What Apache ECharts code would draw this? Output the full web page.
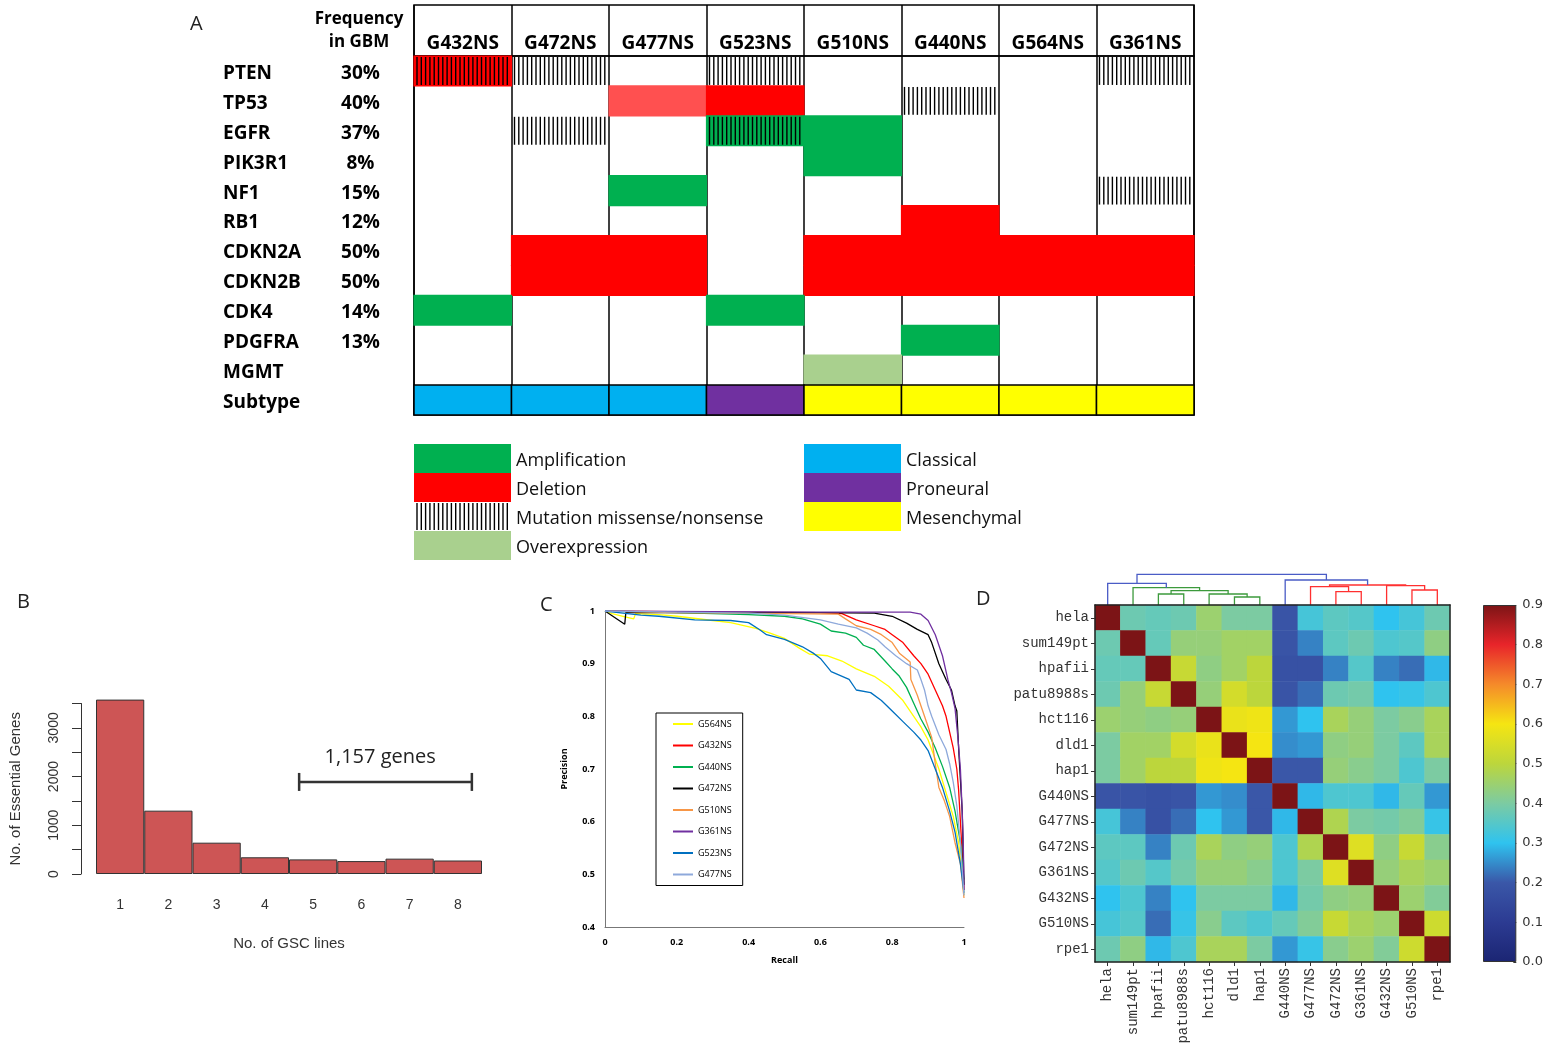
<!DOCTYPE html>
<html>
<head>
<meta charset="utf-8">
<script src="https://cdn.jsdelivr.net/npm/echarts@6/dist/echarts.min.js"></script>
<style>
  html, body { margin: 0; padding: 0; background: #fff; }
  #main { width: 1546px; height: 1049px; }
</style>
</head>
<body>
<div id="main"></div>
<script>
// ---------- panel A data ----------
var cellLines = ['G432NS', 'G472NS', 'G477NS', 'G523NS', 'G510NS', 'G440NS', 'G564NS', 'G361NS'];
var genes = ['PTEN', 'TP53', 'EGFR', 'PIK3R1', 'NF1', 'RB1', 'CDKN2A', 'CDKN2B', 'CDK4', 'PDGFRA', 'MGMT', 'Subtype'];
var freqs = ['30%', '40%', '37%', '8%', '15%', '12%', '50%', '50%', '14%', '13%', '', ''];
// [column, row, alteration]
var alterations = [
  [0, 0, 'del'], [0, 0, 'mut'], [1, 0, 'mut'], [3, 0, 'mut'], [7, 0, 'mut'],
  [2, 1, 'delLight'], [3, 1, 'del'], [5, 1, 'mut'],
  [1, 2, 'mut'], [3, 2, 'amp'], [3, 2, 'mut'], [4, 2, 'amp'],
  [4, 3, 'amp'],
  [2, 4, 'amp'], [7, 4, 'mut'],
  [5, 5, 'del'],
  [1, 6, 'del'], [2, 6, 'del'], [4, 6, 'del'], [5, 6, 'del'], [6, 6, 'del'], [7, 6, 'del'],
  [1, 7, 'del'], [2, 7, 'del'], [4, 7, 'del'], [5, 7, 'del'], [6, 7, 'del'], [7, 7, 'del'],
  [0, 8, 'amp'], [3, 8, 'amp'],
  [5, 9, 'amp'],
  [4, 10, 'over']
];
var subtypes = ['classical', 'classical', 'classical', 'proneural', 'mesenchymal', 'mesenchymal', 'mesenchymal', 'mesenchymal'];
var legendAlt = [['Amplification', 'amp'], ['Deletion', 'del'], ['Mutation missense/nonsense', 'mut'], ['Overexpression', 'over']];
var legendSub = [['Classical', 'classical'], ['Proneural', 'proneural'], ['Mesenchymal', 'mesenchymal']];

// ---------- panel B data ----------
var gscLines = ['1', '2', '3', '4', '5', '6', '7', '8'];
var essentialGenes = [3580, 1300, 643, 343, 300, 265, 315, 277];
var bracketX = [4.71, 8.29];
var bracketY = 1890;

// ---------- panel C data ----------
var prNames = ['G564NS', 'G432NS', 'G440NS', 'G472NS', 'G510NS', 'G361NS', 'G523NS', 'G477NS'];
var prG564 = [[0,1],[0.02,0.995],[0.05,0.99],[0.08,0.985],[0.085,0.995],[0.15,0.993],[0.2,0.99],[0.3,0.982],[0.35,0.978],[0.42,0.967],[0.46,0.958],[0.5,0.948],[0.54,0.93],[0.57,0.918],[0.62,0.915],[0.66,0.905],[0.7,0.89],[0.75,0.876],[0.79,0.857],[0.83,0.83],[0.86,0.8],[0.88,0.78],[0.9,0.755],[0.93,0.7],[0.95,0.655],[0.97,0.61],[0.985,0.56],[0.995,0.5],[1,0.46]];
var prG432 = [[0,1],[0.3,0.998],[0.6,0.997],[0.66,0.995],[0.7,0.983],[0.75,0.972],[0.78,0.965],[0.8,0.955],[0.83,0.94],[0.86,0.915],[0.88,0.9],[0.9,0.88],[0.92,0.85],[0.94,0.82],[0.95,0.8],[0.96,0.77],[0.97,0.74],[0.98,0.7],[0.985,0.66],[0.99,0.6],[0.995,0.54],[1,0.47]];
var prG440 = [[0,1],[0.2,0.997],[0.4,0.993],[0.5,0.99],[0.55,0.985],[0.6,0.975],[0.63,0.962],[0.67,0.958],[0.7,0.95],[0.72,0.935],[0.75,0.927],[0.78,0.905],[0.8,0.89],[0.82,0.876],[0.84,0.855],[0.86,0.825],[0.88,0.795],[0.9,0.77],[0.92,0.74],[0.94,0.705],[0.96,0.665],[0.975,0.62],[0.99,0.56],[1,0.49]];
var prG472 = [[0,1],[0.055,0.975],[0.058,0.997],[0.3,0.997],[0.6,0.997],[0.75,0.996],[0.8,0.99],[0.84,0.977],[0.87,0.965],[0.9,0.955],[0.91,0.94],[0.93,0.9],[0.95,0.87],[0.965,0.85],[0.975,0.82],[0.98,0.81],[0.985,0.74],[0.99,0.68],[0.995,0.62],[1,0.48]];
var prG510 = [[0,1],[0.2,0.997],[0.5,0.995],[0.65,0.994],[0.67,0.985],[0.7,0.972],[0.74,0.965],[0.77,0.955],[0.8,0.94],[0.82,0.92],[0.85,0.903],[0.852,0.87],[0.87,0.84],[0.89,0.8],[0.91,0.76],[0.92,0.71],[0.93,0.665],[0.945,0.64],[0.96,0.61],[0.975,0.56],[0.99,0.52],[1,0.455]];
var prG361 = [[0,1],[0.3,0.999],[0.6,0.998],[0.85,0.998],[0.88,0.994],[0.9,0.982],[0.92,0.955],[0.94,0.915],[0.955,0.87],[0.965,0.845],[0.975,0.815],[0.983,0.76],[0.99,0.7],[0.995,0.62],[0.998,0.56],[1,0.47]];
var prG523 = [[0,1],[0.05,0.996],[0.1,0.992],[0.15,0.99],[0.25,0.983],[0.35,0.982],[0.4,0.978],[0.43,0.965],[0.45,0.955],[0.5,0.946],[0.55,0.932],[0.58,0.92],[0.6,0.91],[0.63,0.885],[0.68,0.87],[0.7,0.85],[0.74,0.845],[0.77,0.83],[0.8,0.81],[0.83,0.79],[0.86,0.77],[0.88,0.755],[0.9,0.735],[0.92,0.7],[0.94,0.665],[0.96,0.62],[0.975,0.58],[0.99,0.52],[1,0.465]];
var prG477 = [[0,1],[0.2,0.998],[0.4,0.996],[0.5,0.992],[0.6,0.983],[0.65,0.975],[0.7,0.968],[0.73,0.958],[0.76,0.945],[0.78,0.932],[0.81,0.915],[0.84,0.9],[0.87,0.888],[0.88,0.87],[0.89,0.85],[0.9,0.82],[0.91,0.8],[0.93,0.765],[0.95,0.737],[0.96,0.71],[0.97,0.675],[0.98,0.63],[0.99,0.56],[1,0.46]];
var prCurves = [prG564, prG432, prG440, prG472, prG510, prG361, prG523, prG477];

// ---------- panel D data ----------
var samples = ['hela', 'sum149pt', 'hpafii', 'patu8988s', 'hct116', 'dld1', 'hap1', 'G440NS', 'G477NS', 'G472NS', 'G361NS', 'G432NS', 'G510NS', 'rpe1'];
var corr = [
  [0.90,0.38,0.37,0.38,0.45,0.40,0.40,0.19,0.33,0.36,0.35,0.30,0.33,0.38],
  [0.38,0.90,0.37,0.44,0.44,0.46,0.46,0.19,0.24,0.36,0.38,0.34,0.35,0.43],
  [0.37,0.37,0.90,0.52,0.43,0.46,0.50,0.18,0.18,0.24,0.35,0.24,0.22,0.29],
  [0.38,0.44,0.52,0.90,0.44,0.54,0.50,0.19,0.22,0.38,0.39,0.30,0.31,0.34],
  [0.45,0.44,0.43,0.44,0.90,0.58,0.59,0.26,0.30,0.47,0.44,0.40,0.42,0.47],
  [0.40,0.46,0.46,0.54,0.58,0.90,0.60,0.25,0.26,0.43,0.44,0.40,0.36,0.47],
  [0.40,0.46,0.50,0.50,0.59,0.60,0.90,0.20,0.20,0.44,0.42,0.40,0.34,0.40],
  [0.19,0.19,0.18,0.19,0.26,0.25,0.20,0.90,0.29,0.34,0.34,0.29,0.37,0.26],
  [0.33,0.24,0.18,0.22,0.30,0.26,0.20,0.29,0.90,0.48,0.40,0.39,0.41,0.31],
  [0.36,0.36,0.24,0.38,0.47,0.43,0.44,0.34,0.48,0.90,0.56,0.43,0.52,0.42],
  [0.35,0.38,0.35,0.39,0.44,0.44,0.42,0.34,0.40,0.56,0.90,0.44,0.47,0.45],
  [0.30,0.34,0.24,0.30,0.40,0.40,0.40,0.29,0.39,0.43,0.44,0.90,0.45,0.41],
  [0.33,0.35,0.22,0.31,0.42,0.36,0.34,0.37,0.41,0.52,0.47,0.45,0.90,0.53],
  [0.38,0.43,0.29,0.34,0.47,0.47,0.40,0.26,0.31,0.42,0.45,0.41,0.53,0.90]
];
// linkage: [left node, right node, height, cluster]; leaves are 0..13, merges are 14..
var merges = [
  [5, 6, 8, 'green'], [4, 14, 11, 'green'], [2, 3, 11, 'green'], [16, 15, 14.3, 'green'],
  [1, 17, 17.3, 'green'], [0, 18, 21.7, 'blue'],
  [9, 10, 13.3, 'red'], [12, 13, 15, 'red'], [11, 21, 19.3, 'red'], [8, 20, 18.3, 'red'],
  [23, 22, 20, 'red'], [7, 24, 25, 'blue'], [19, 25, 30.7, 'blue']
];
var colorTicks = [0, 0.1, 0.2, 0.3, 0.4, 0.5, 0.6, 0.7, 0.8, 0.9];

// ---------- styles ----------
var altColor = {
  amp: '#00B050', del: '#FF0000', delLight: '#FF5050', over: '#A9D08E',
  classical: '#00B0F0', proneural: '#7030A0', mesenchymal: '#FFFF00'
};
var prColors = ['#FFFF00', '#FF0000', '#00B050', '#000000', '#F79646', '#7030A0', '#0070C0', '#8EA9DB'];
var clusterColor = { green: '#3c9a3c', red: '#ff3030', blue: '#4a5cc6' };
var jet = ['#1b2573', '#2c3b92', '#3a57a8', '#2fc3ef', '#7ccba2', '#bcd63c', '#f5e512', '#f58a2a', '#e8252a', '#7c1416'];
var fontA = '"Open Sans", sans-serif';
var fontR = '"Liberation Sans", Arial, sans-serif';
var fontMono = '"Liberation Mono", monospace';

function stripes(x, y, w, h) {
  var out = [];
  for (var sx = x + 3; sx < x + w - 1; sx += 4.3) {
    out.push({ type: 'line', shape: { x1: sx, y1: y + 1, x2: sx, y2: y + h - 1 },
      style: { stroke: '#000', lineWidth: 1.4 } });
  }
  return out;
}

var cellData = alterations.concat(subtypes.map(function (s, i) { return [i, genes.length - 1, s]; }));

// dendrogram node positions
var nodeX = samples.map(function (s, i) { return i; });
var nodeH = samples.map(function () { return 0; });
var dendroData = merges.map(function (m) {
  var xl = nodeX[m[0]], xr = nodeX[m[1]];
  var row = [xl, nodeH[m[0]], xr, nodeH[m[1]], m[2]];
  nodeX.push((xl + xr) / 2);
  nodeH.push(m[2]);
  return row;
});

var heatData = [];
corr.forEach(function (row, i) {
  row.forEach(function (v, j) { heatData.push([j, i, v]); });
});

// ---------- graphic: labels and legend of panel A ----------
var graphic = [
  { type: 'text', left: 190, top: 14, style: { text: 'A', font: '20px ' + fontA, fill: '#222' } },
  { type: 'text', left: 17, top: 592, style: { text: 'B', font: '20px ' + fontA, fill: '#222' } },
  { type: 'text', left: 540, top: 595, style: { text: 'C', font: '20px ' + fontA, fill: '#222' } },
  { type: 'text', left: 976, top: 589, style: { text: 'D', font: '20px ' + fontA, fill: '#222' } },
  { type: 'text', x: 359, y: 19, style: { text: 'Frequency', font: 'bold 17px ' + fontA, fill: '#000', align: 'center', verticalAlign: 'middle' } },
  { type: 'text', x: 359, y: 42, style: { text: 'in GBM', font: 'bold 17px ' + fontA, fill: '#000', align: 'center', verticalAlign: 'middle' } }
];
function legendBlock(items, x0, y0) {
  items.forEach(function (it, i) {
    var y = y0 + i * 29;
    if (it[1] === 'mut') {
      graphic.push({ type: 'group', children: stripes(x0, y, 97, 29) });
    } else {
      graphic.push({ type: 'rect', shape: { x: x0, y: y, width: 97, height: 29 }, style: { fill: altColor[it[1]] } });
    }
    graphic.push({ type: 'text', x: x0 + 102, y: y + 17, style: { text: it[0], font: '18px ' + fontA, fill: '#111', verticalAlign: 'middle' } });
  });
}
legendBlock(legendAlt, 414, 444);
legendBlock(legendSub, 804, 444);

var option = {
  animation: false,
  backgroundColor: '#fff',
  graphic: graphic,
  grid: [
    { left: 414, top: 5, width: 780, height: 51, show: true, borderColor: '#000', borderWidth: 1.5 },
    { left: 414, top: 56, width: 780, height: 359, show: true, borderColor: '#000', borderWidth: 1.5 },
    { left: 96, top: 703.5, width: 386, height: 170.5 },
    { left: 605, top: 611, width: 359, height: 316 },
    { left: 1095, top: 570, width: 355, height: 35 },
    { left: 1095, top: 605, width: 355, height: 357 },
    { left: 1483, top: 605, width: 34, height: 357 }
  ],
  xAxis: [
    { gridIndex: 0, type: 'category', data: cellLines, position: 'bottom',
      axisLine: { show: false }, axisTick: { show: false },
      axisLabel: { inside: true, margin: 3, color: '#000', fontWeight: 'bold', fontSize: 19, fontFamily: fontA },
      splitLine: { show: true, lineStyle: { color: '#000', width: 1.5 } } },
    { gridIndex: 1, type: 'category', data: cellLines,
      axisLine: { show: false }, axisTick: { show: false }, axisLabel: { show: false },
      splitLine: { show: true, lineStyle: { color: '#000', width: 1.5 } } },
    { gridIndex: 2, type: 'category', data: gscLines,
      axisLine: { show: false }, axisTick: { show: false },
      axisLabel: { margin: 24, fontSize: 14, color: '#333', fontFamily: fontR },
      name: 'No. of GSC lines', nameLocation: 'middle', nameGap: 62,
      nameTextStyle: { fontSize: 15, color: '#333', fontFamily: fontR } },
    { gridIndex: 2, type: 'value', min: 0.5, max: 8.5, show: false },
    { gridIndex: 3, type: 'value', min: 0, max: 1, interval: 0.2,
      axisLine: { show: true, lineStyle: { color: '#777', width: 1 } }, axisTick: { show: false },
      splitLine: { show: false },
      axisLabel: { margin: 11, fontSize: 9, fontWeight: 'bold', color: '#000', fontFamily: fontA,
        formatter: function (v) { return (v === 0 || v === 1) ? String(v) : v.toFixed(1); } },
      name: 'Recall', nameLocation: 'middle', nameGap: 29,
      nameTextStyle: { fontSize: 9, fontWeight: 'bold', color: '#000', fontFamily: fontA } },
    { gridIndex: 4, type: 'value', min: -0.5, max: 13.5, show: false },
    { gridIndex: 5, type: 'category', data: samples, z: 5,
      axisLine: { show: true, lineStyle: { color: '#222', width: 1.5 } },
      axisTick: { show: true, alignWithLabel: true, length: 4, lineStyle: { color: '#333' } },
      axisLabel: { rotate: 90, margin: 6, fontSize: 14, color: '#333', fontFamily: fontMono } },
    { gridIndex: 6, type: 'category', data: [''], show: false },
    { gridIndex: 5, type: 'category', data: samples, position: 'top', z: 5,
      axisLine: { show: true, lineStyle: { color: '#222', width: 1.5 } },
      axisTick: { show: false }, axisLabel: { show: false } }
  ],
  yAxis: [
    { gridIndex: 0, type: 'category', data: [''], show: false },
    { gridIndex: 1, type: 'category', data: genes, inverse: true,
      axisLine: { show: false }, axisTick: { show: false },
      axisLabel: {
        margin: 31,
        formatter: function (v, i) { return '{g|' + v + '}{f|' + (freqs[i] || '\u00a0') + '}'; },
        rich: {
          g: { width: 115, align: 'left', fontWeight: 'bold', fontSize: 19, color: '#000', fontFamily: fontA, padding: [5, 0, 0, 0] },
          f: { width: 45, align: 'center', fontWeight: 'bold', fontSize: 19, color: '#000', fontFamily: fontA, padding: [5, 0, 0, 0] }
        }
      } },
    { gridIndex: 2, type: 'value', min: 0, max: 3500, interval: 500, offset: 15,
      axisLine: { show: true, lineStyle: { color: '#333' } },
      axisTick: { show: true, length: 9, lineStyle: { color: '#333' } },
      splitLine: { show: false },
      axisLabel: { rotate: 90, margin: 20, fontSize: 14, color: '#333', fontFamily: fontR,
        formatter: function (v) { return v % 1000 === 0 ? String(v) : ''; } },
      name: 'No. of Essential Genes', nameLocation: 'middle', nameGap: 58,
      nameTextStyle: { fontSize: 15, color: '#333', fontFamily: fontR } },
    { gridIndex: 3, type: 'value', min: 0.4, max: 1, interval: 0.1,
      axisLine: { show: true, lineStyle: { color: '#777', width: 1 } }, axisTick: { show: false },
      splitLine: { show: false },
      axisLabel: { margin: 10, fontSize: 9, fontWeight: 'bold', color: '#000', fontFamily: fontA,
        formatter: function (v) { return Math.abs(v - 1) < 1e-9 ? '1' : v.toFixed(1); } },
      name: 'Precision', nameLocation: 'middle', nameGap: 36,
      nameTextStyle: { fontSize: 9, fontWeight: 'bold', color: '#000', fontFamily: fontA } },
    { gridIndex: 4, type: 'value', min: 0, max: 35, show: false },
    { gridIndex: 5, type: 'category', data: samples, inverse: true, z: 5,
      axisLine: { show: true, lineStyle: { color: '#222', width: 1.5 } },
      axisTick: { show: true, alignWithLabel: true, length: 4, lineStyle: { color: '#333' } },
      axisLabel: { margin: 6, fontSize: 14, color: '#333', fontFamily: fontMono } },
    { gridIndex: 6, type: 'value', min: 0, max: 0.9, interval: 0.1, position: 'right',
      axisLine: { show: false }, splitLine: { show: false },
      axisTick: { show: true, inside: true, length: 3, lineStyle: { color: '#333' } },
      axisLabel: { margin: 6, fontSize: 13, color: '#333', fontFamily: '"DejaVu Sans", sans-serif',
        formatter: function (v) { return v.toFixed(1); } } },
    { gridIndex: 5, type: 'category', data: samples, inverse: true, position: 'right', z: 5,
      axisLine: { show: true, lineStyle: { color: '#222', width: 1.5 } },
      axisTick: { show: false }, axisLabel: { show: false } }
  ],
  legend: {
    data: prNames, orient: 'vertical', left: 656, top: 713,
    padding: [5, 11, 5, 17], itemGap: 9.5, itemWidth: 20, itemHeight: 2, icon: 'rect',
    borderColor: '#000', borderWidth: 1, backgroundColor: '#fff',
    textStyle: { fontSize: 9, lineHeight: 12, color: '#000', fontFamily: fontA }
  },
  visualMap: {
    show: false, type: 'continuous', min: 0, max: 0.9, seriesIndex: 12,
    inRange: { color: jet }
  },
  series: []
};

// panel A cells
option.series.push({
  type: 'custom', xAxisIndex: 1, yAxisIndex: 1, data: cellData.map(function (d) { return [d[0], d[1]]; }),
  renderItem: function (params, api) {
    var kind = cellData[params.dataIndex][2];
    var c = api.coord([api.value(0), api.value(1)]);
    var s = api.size([1, 1]);
    var x = c[0] - s[0] / 2, y = c[1] - s[1] / 2;
    if (kind === 'mut') return { type: 'group', children: stripes(x, y, s[0], s[1]) };
    var sub = kind === 'classical' || kind === 'proneural' || kind === 'mesenchymal';
    if (sub) {
      return { type: 'rect', shape: { x: x, y: y, width: s[0], height: s[1] },
        style: { fill: altColor[kind], stroke: '#000', lineWidth: 1.5 } };
    }
    // slight overlap hides the seams between neighbouring blocks
    return { type: 'rect', shape: { x: x - 0.6, y: y - 0.6, width: s[0] + 1.2, height: s[1] + 1.2 },
      style: { fill: altColor[kind] } };
  }
});

// panel B histogram
option.series.push({
  type: 'bar', xAxisIndex: 2, yAxisIndex: 2, data: essentialGenes, clip: false,
  barCategoryGap: '0%', itemStyle: { color: '#CD5555', borderColor: '#333', borderWidth: 1 }
});
option.series.push({
  type: 'line', xAxisIndex: 3, yAxisIndex: 2,
  data: [[bracketX[0], bracketY], [bracketX[1], bracketY]],
  symbol: 'rect', symbolSize: [2.5, 18], itemStyle: { color: '#333' },
  lineStyle: { color: '#333', width: 2.5 },
  markPoint: {
    symbol: 'circle', symbolSize: 0,
    data: [{ coord: [6.39, 2400] }],
    label: { show: true, position: 'inside', formatter: '1,157 genes', fontSize: 20, color: '#222', fontFamily: fontA }
  }
});

// panel C PR curves
prNames.forEach(function (n, i) {
  option.series.push({
    name: n, type: 'line', xAxisIndex: 4, yAxisIndex: 3, data: prCurves[i],
    showSymbol: false, symbol: 'none', color: prColors[i],
    lineStyle: { color: prColors[i], width: 1.3 }
  });
});

// panel D dendrogram
option.series.push({
  type: 'custom', xAxisIndex: 5, yAxisIndex: 4, data: dendroData, clip: false,
  renderItem: function (params, api) {
    var a = api.coord([api.value(0), api.value(1)]);
    var b = api.coord([api.value(0), api.value(4)]);
    var c = api.coord([api.value(2), api.value(4)]);
    var d = api.coord([api.value(2), api.value(3)]);
    return { type: 'polyline', shape: { points: [a, b, c, d] },
      style: { stroke: clusterColor[merges[params.dataIndex][3]], lineWidth: 1.3, fill: null } };
  }
});

// panel D heatmap
option.series.push({
  type: 'heatmap', xAxisIndex: 6, yAxisIndex: 5, data: heatData,
  emphasis: { disabled: true }
});

// panel D colour bar
option.series.push({
  type: 'bar', xAxisIndex: 7, yAxisIndex: 6, data: [colorTicks[colorTicks.length - 1]], barWidth: '100%',
  itemStyle: {
    borderColor: '#333', borderWidth: 1,
    color: new echarts.graphic.LinearGradient(0, 1, 0, 0, jet.map(function (c, i) {
      return { offset: i / (jet.length - 1), color: c };
    }))
  }
});

var myChart = echarts.init(document.getElementById('main'));
myChart.setOption(option);
window.addEventListener('resize', function () { myChart.resize(); });
</script>
</body>
</html>
